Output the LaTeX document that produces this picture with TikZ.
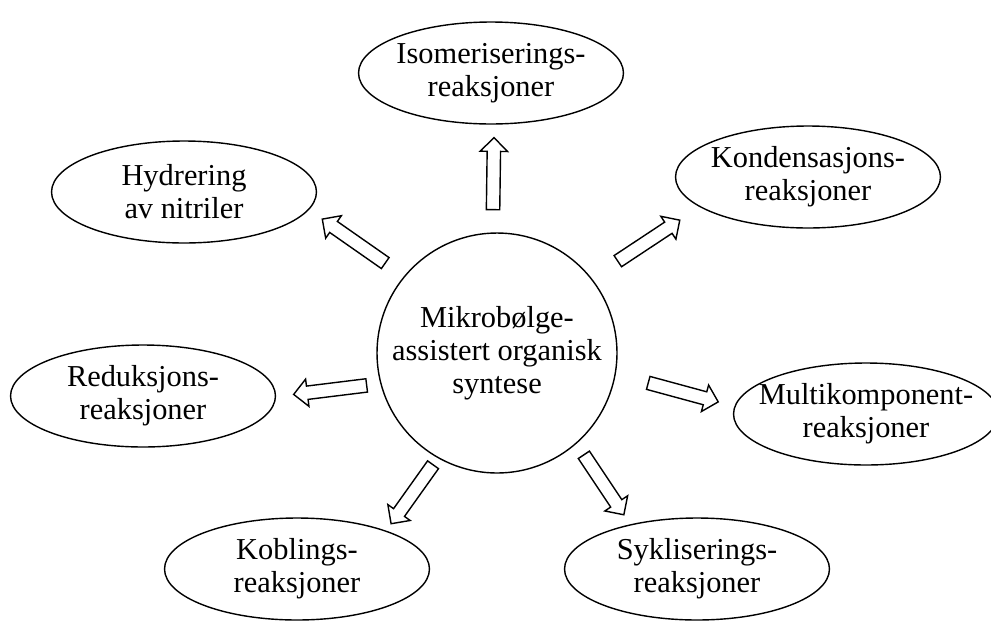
\documentclass[tikz,border=0pt]{standalone}
\usepackage{fontspec}
\setmainfont{Liberation Serif}
\usetikzlibrary{shapes.geometric,shapes.arrows,calc}

\newcommand{\blockarrow}[3]{%
  \path let \p1=($(#3)-(#2)$), \n1={atan2(\y1,\x1)}, \n2={veclen(\x1,\y1)} in
    node[blockarr, rotate=\n1, minimum height=\n2] (#1) at ($(#2)!0.5!(#3)$) {};}

\begin{document}
\begin{tikzpicture}[x=0.02cm, y=-0.02cm,
    rtext/.style={align=center, inner sep=0pt, font=\fontsize{17.3}{18.7}\selectfont},
    reaction/.style={draw, ellipse, line width=0.8pt, minimum width=5.3cm, minimum height=2.04cm,
        inner sep=0pt, label={[rtext]center:#1}},
    hub/.style={draw, circle, line width=0.8pt, minimum size=4.8cm, inner sep=0pt,
        label={[rtext]center:#1}},
    blockarr/.style={draw, fill=white, single arrow, line width=0.8pt, inner xsep=0pt, inner ysep=0.12cm,
        single arrow head extend=0.14cm, single arrow tip angle=90, minimum width=0pt}]
    \useasboundingbox (0,0) rectangle (991,623);

    % centre
    \node[hub={Mikrobølge-\\assistert organisk\\syntese}] (center) at (497,353) {};

    % reactions
    \node[reaction={Isomeriserings-\\reaksjoner}] (iso) at (491,73) {};
    \node[reaction={Kondensasjons-\\reaksjoner}] (kond) at (808,177) {};
    \node[reaction={Hydrering\\av nitriler}] (hydr) at (184,192) {};
    \node[reaction={Reduksjons-\\reaksjoner}] (red) at (143,396) {};
    \node[reaction={Multikomponent-\\reaksjoner}] (multi) at (866,414) {};
    \node[reaction={Koblings-\\reaksjoner}] (kob) at (297,569) {};
    \node[reaction={Sykliserings-\\reaksjoner}] (syk) at (697,569) {};

    % arrow ends
    \coordinate (iso-tail) at (493,213);   \coordinate (iso-tip) at (494,141);
    \coordinate (kond-tail) at (615,263);  \coordinate (kond-tip) at (677,222);
    \coordinate (hydr-tail) at (388,265);  \coordinate (hydr-tip) at (325,221);
    \coordinate (red-tail) at (370,385);   \coordinate (red-tip) at (297,394);
    \coordinate (multi-tail) at (645,382); \coordinate (multi-tip) at (715,401);
    \coordinate (kob-tail) at (435,462);   \coordinate (kob-tip) at (393,521);
    \coordinate (syk-tail) at (582,452);   \coordinate (syk-tip) at (622,512);

    % arrows
    \blockarrow{arr-iso}{iso-tail}{iso-tip}
    \blockarrow{arr-kond}{kond-tail}{kond-tip}
    \blockarrow{arr-hydr}{hydr-tail}{hydr-tip}
    \blockarrow{arr-red}{red-tail}{red-tip}
    \blockarrow{arr-multi}{multi-tail}{multi-tip}
    \blockarrow{arr-kob}{kob-tail}{kob-tip}
    \blockarrow{arr-syk}{syk-tail}{syk-tip}

\end{tikzpicture}
\end{document}
